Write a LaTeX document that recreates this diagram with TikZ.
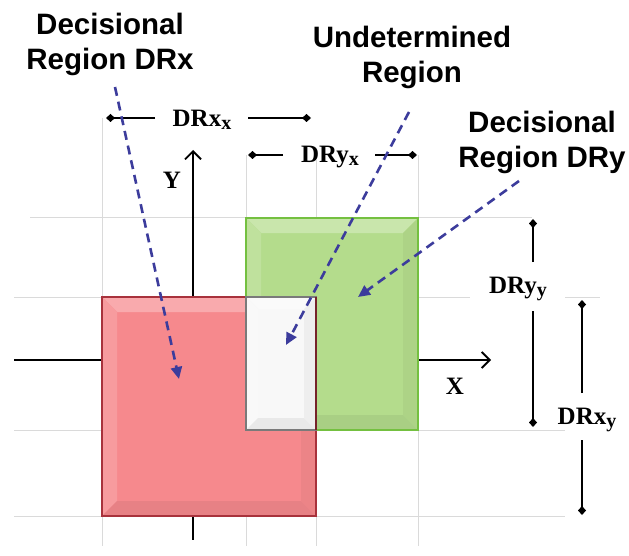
\documentclass[tikz,border=0pt]{standalone}
\usepackage{fontspec}
\setmainfont{Liberation Serif}
\newfontfamily\calloutfont{Liberation Sans}
\usetikzlibrary{arrows.meta}

\definecolor{gridgray}{HTML}{DADADA}
\definecolor{pointer}{HTML}{3C3C9C}
\definecolor{redfill}{HTML}{F6898D}
\definecolor{redline}{HTML}{A8323C}
\definecolor{greenfill}{HTML}{B4DC8C}
\definecolor{greenline}{HTML}{74C040}
\definecolor{whitefill}{HTML}{F8F8F8}
\definecolor{whiteline}{HTML}{7A7A7A}

% bevelled rectangle: corners (#1,#2)-(#3,#4), base colour #5, edge colour #6, bevel #7
\newcommand\bevelrect[7]{%
  \fill[#5] (#1,#2) rectangle (#3,#4);
  \fill[#5!72!white] (#1,#2) -- (#3,#2) -- (#3-#7,#2+#7) -- (#1+#7,#2+#7) -- cycle;
  \fill[#5!85!white] (#1,#2) -- (#1+#7,#2+#7) -- (#1+#7,#4-#7) -- (#1,#4) -- cycle;
  \fill[#5!94!black] (#1,#4) -- (#1+#7,#4-#7) -- (#3-#7,#4-#7) -- (#3,#4) -- cycle;
  \fill[#5!96!black] (#3,#2) -- (#3-#7,#2+#7) -- (#3-#7,#4-#7) -- (#3,#4) -- cycle;
  \draw[#6, line width=1.6pt] (#1,#2) rectangle (#3,#4);
}

% bold label with a lowered, slightly smaller subscript
\newcommand\dimtext[2]{#1\raisebox{-0.3ex}{\fontsize{20}{20}\selectfont #2}}

\tikzset{
  grid line/.style={gridgray, line width=1pt},
  axis/.style={black, line width=1.8pt},
  dimline/.style={black, line width=1.8pt, -{Diamond[length=9pt,width=8pt]}},
  dimlabel/.style={font=\fontsize{25}{27}\selectfont\bfseries, inner sep=1pt},
  callout/.style={font=\calloutfont\fontsize{29.5}{35}\selectfont\bfseries, align=center},
  pointer arrow/.style={pointer, line width=2.6pt, dash pattern=on 9pt off 6pt,
    -{Triangle[length=12pt,width=11pt]}},
}

\begin{document}
\begin{tikzpicture}[x=1pt,y=-1pt]
\useasboundingbox (0,0) rectangle (629,556);
\fill[white] (0,0) rectangle (629,556);

% light grid
\draw[grid line] (102,118) -- (102,546);
\draw[grid line] (246,155) -- (246,546);
\draw[grid line] (316,160) -- (316,546);
\draw[grid line] (418,155) -- (418,546);
\draw[grid line] (30,218) -- (532,218);
\draw[grid line] (14,297) -- (470,297);
\draw[grid line] (565,297) -- (600,297);
\draw[grid line] (14,430) -- (565,430);
\draw[grid line] (14,516) -- (565,516);

% axes
\draw[axis] (14,360) -- (102,360);
\draw[axis, -{Straight Barb[length=8pt,width=16pt]}] (418,360) -- (491,360);
\draw[axis, -{Straight Barb[length=8pt,width=16pt]}] (193,297) -- (193,150);
\draw[axis] (193,516) -- (193,540);

% regions
\bevelrect{102}{297}{316}{516}{redfill}{redline}{15}
\bevelrect{246}{218}{418}{430}{greenfill}{greenline}{15}
\bevelrect{246}{297}{316}{430}{whitefill}{whiteline}{12}
\draw[redline!70!black, line width=1.4pt] (316,297) -- (316,430);

% axis labels
\node[dimlabel] (ylab) at (172,180) {Y};
\node[dimlabel] (xlab) at (455,386) {X};

% dimension markers (each line leaves a gap around its label)
\coordinate (dxxa) at (106,118);
\coordinate (dxxb) at (311,118);
\node[dimlabel] (dxx) at (202,120) {\dimtext{DRx}{x}};
\draw[dimline] (155,118) -- (dxxa);
\draw[dimline] (248,118) -- (dxxb);

\coordinate (dyxa) at (248,155);
\coordinate (dyxb) at (417,155);
\node[dimlabel] (dyx) at (330,157) {\dimtext{DRy}{x}};
\draw[dimline] (283,155) -- (dyxa);
\draw[dimline] (375,155) -- (dyxb);

\coordinate (dyya) at (533,219);
\coordinate (dyyb) at (533,427);
\node[dimlabel] (dyy) at (518,289) {\dimtext{DRy}{y}};
\draw[dimline] (533,262) -- (dyya);
\draw[dimline] (533,311) -- (dyyb);

\coordinate (dxya) at (582,300);
\coordinate (dxyb) at (582,515);
\node[dimlabel] (dxy) at (587,420) {\dimtext{DRx}{y}};
\draw[dimline] (582,393) -- (dxya);
\draw[dimline] (582,440) -- (dxyb);

% callouts
\node[callout] (cdrx) at (110,44) {Decisional\\Region DRx};
\node[callout] (cund) at (412,57) {Undetermined\\Region};
\node[callout] (cdry) at (542,142) {Decisional\\Region DRy};

\coordinate (pxa) at (115,87);
\coordinate (pxb) at (179,379);
\coordinate (pua) at (409,112);
\coordinate (pub) at (286,345);
\coordinate (pya) at (519,181);
\coordinate (pyb) at (358,297);
\draw[pointer arrow] (pxa) -- (pxb);
\draw[pointer arrow] (pua) -- (pub);
\draw[pointer arrow] (pya) -- (pyb);
\end{tikzpicture}
\end{document}
